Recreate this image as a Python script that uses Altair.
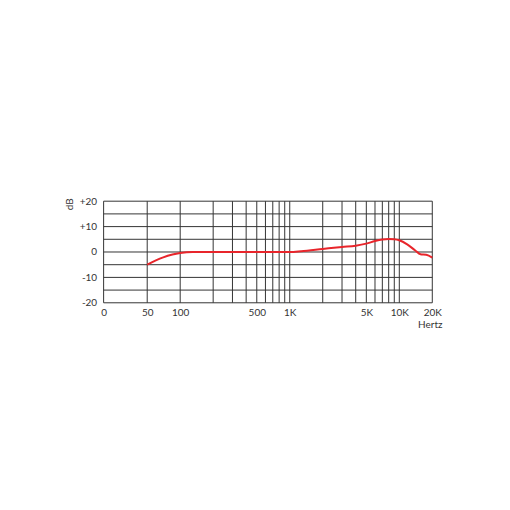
import altair as alt
import pandas as pd

# Frequency response curve (Hz, dB)
freq = [50, 60, 70, 85, 100, 130, 200, 500, 1000, 1270, 2000, 3000, 4000, 5000, 6000, 7000, 8000, 9000, 10000, 11800, 13900, 15600, 17600, 20000]
db = [-5.0, -3.3, -2.1, -1.0, -0.4, 0.0, 0.0, 0.0, 0.0, 0.3, 1.2, 2.0, 2.5, 3.3, 4.3, 4.9, 5.1, 5.0, 4.6, 3.0, 0.7, -0.9, -1.1, -2.2]

# Grid lines
grid_freq = [20, 50, 100, 200, 300, 400, 500, 600, 700, 800, 900, 1000,
             2000, 3000, 4000, 5000, 6000, 7000, 8000, 9000, 10000, 20000]
grid_db = [-20, -15, -10, -5, 0, 5, 10, 15, 20]

# Tick labels
x_ticks = [20, 50, 100, 500, 1000, 5000, 10000, 20000]
x_labels = ["0", "50", "100", "500", "1K", "5K", "10K", "20K"]
y_ticks = [-20, -10, 0, 10, 20]

FONT = "Lato"
xmap = "{" + ",".join(f"'{v}':'{l}'" for v, l in zip(x_ticks, x_labels)) + "}"

xscale = alt.Scale(type="log", domain=[20, 20000])
yscale = alt.Scale(domain=[-20, 20])

xaxis = alt.Axis(values=x_ticks, labelExpr=f"{xmap}[datum.value]", title=None,
                 grid=False, ticks=False, domain=False, labelFont=FONT,
                 labelFontSize=10, labelColor="#333333", labelPadding=5,
                 labelFlush=False, labelOverlap=False)
yaxis = alt.Axis(values=y_ticks,
                 labelExpr="datum.value > 0 ? '+' + datum.value : '' + datum.value",
                 title=None, grid=False, ticks=False, domain=False, labelFont=FONT,
                 labelFontSize=10, labelColor="#333333", labelPadding=7,
                 labelOverlap=False, labelFlush=False)

curve_df = pd.DataFrame({"f": freq, "db": db})

vgrid = alt.Chart(pd.DataFrame({"f": grid_freq})).mark_rule(color="#333333", strokeWidth=1).encode(
    x=alt.X("f:Q", scale=xscale, axis=xaxis),
    y=alt.value(0), y2=alt.value(102)
)

hgrid = alt.Chart(pd.DataFrame({"db": grid_db})).mark_rule(color="#333333", strokeWidth=1).encode(
    y=alt.Y("db:Q", scale=yscale, axis=yaxis),
    x=alt.value(0), x2=alt.value(330)
)

curve = alt.Chart(curve_df).mark_line(color="#e8252b", strokeWidth=2, interpolate="monotone").encode(
    x=alt.X("f:Q", scale=xscale, axis=xaxis),
    y=alt.Y("db:Q", scale=yscale, axis=yaxis)
)

db_title = alt.Chart(pd.DataFrame({"t": ["dB"]})).mark_text(
    angle=270, font=FONT, fontSize=10, color="#333333", align="center", baseline="middle"
).encode(text="t:N", x=alt.value(-34), y=alt.value(3))

hz_title = alt.Chart(pd.DataFrame({"t": ["Hertz"]})).mark_text(
    font=FONT, fontSize=10, color="#333333", align="center", baseline="middle"
).encode(text="t:N", x=alt.value(328), y=alt.value(124))

chart = alt.layer(vgrid, hgrid, curve, db_title, hz_title).properties(
    width=330, height=102,
    padding={"left": 96, "top": 193, "right": 70, "bottom": 190},
    autosize=alt.AutoSizeParams(type="none")
).configure_view(stroke=None)

chart.save("out.html", embed_options={"renderer": "svg", "actions": False})
